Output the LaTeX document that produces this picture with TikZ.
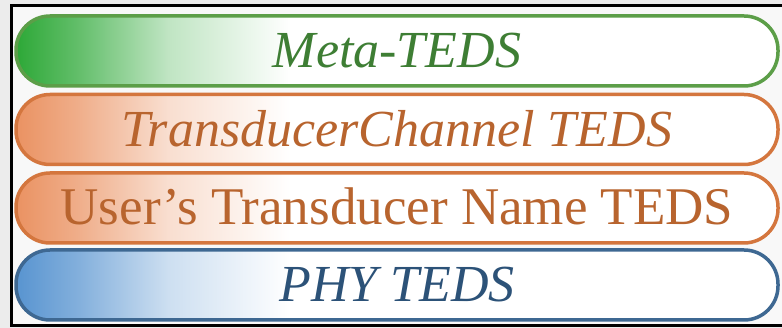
\documentclass[tikz,border=0pt]{standalone}
\usepackage{fontspec}
\setmainfont{Liberation Serif}
\usepackage{tikz}
\usepackage{xcolor}
\definecolor{metagreen}{RGB}{92,158,72}
\definecolor{metafill}{RGB}{45,168,55}
\definecolor{metatext}{RGB}{62,126,52}
\definecolor{chanorange}{RGB}{212,118,62}
\definecolor{chanfill}{RGB}{234,146,98}
\definecolor{chantext}{RGB}{184,100,46}
\definecolor{phyblue}{RGB}{62,104,146}
\definecolor{phyfill}{RGB}{88,148,208}
\definecolor{phytext}{RGB}{44,82,120}
\definecolor{pagegray}{RGB}{236,236,236}
\definecolor{framefill}{RGB}{248,248,248}
\colorlet{barcol}{white}
\pgfdeclarehorizontalshading[barcol]{barshade}{100bp}{color(0bp)=(barcol); color(25bp)=(barcol); color(29bp)=(barcol!75!white); color(35bp)=(barcol!30!white); color(43bp)=(white); color(100bp)=(white)}
\newcommand{\tedsit}{\fontsize{52pt}{60pt}\selectfont\itshape}
\newcommand{\tedsup}{\fontsize{53pt}{62pt}\selectfont}
\tikzset{
	tedsbar/.style n args={3}{draw=#1, text=#2, /utils/exec={\colorlet{barcol}{#3}}, shade, shading=barshade,
		line width=3.5pt, rounded corners=34pt, minimum width=762pt, minimum height=70pt,
		inner sep=0pt, text height=34pt, text depth=0pt},
	frameline/.style={draw=black, line width=3pt}
}

\begin{document}
\begin{tikzpicture}[x=1pt,y=-1pt]

	\useasboundingbox (0,0) rectangle (782,328);
	\fill[pagegray] (0,0) rectangle (782,328);
	\fill[framefill] (11,6) rectangle (782,326);
	\draw[frameline] (782,6) -- (11,6) -- (11,326) -- (782,326);

	\node[tedsbar={metagreen}{metatext}{metafill}, font=\tedsit] (meta) at (397,51) {Meta-TEDS};
	\node[tedsbar={chanorange}{chantext}{chanfill}, font=\tedsit] (channel) at (397,129.5) {TransducerChannel TEDS};
	\node[tedsbar={chanorange}{chantext}{chanfill}, font=\tedsup] (username) at (397,208) {User’s Transducer Name TEDS};
	\node[tedsbar={phyblue}{phytext}{phyfill}, font=\tedsit] (phy) at (397,285) {PHY TEDS};

\end{tikzpicture}
\end{document}
